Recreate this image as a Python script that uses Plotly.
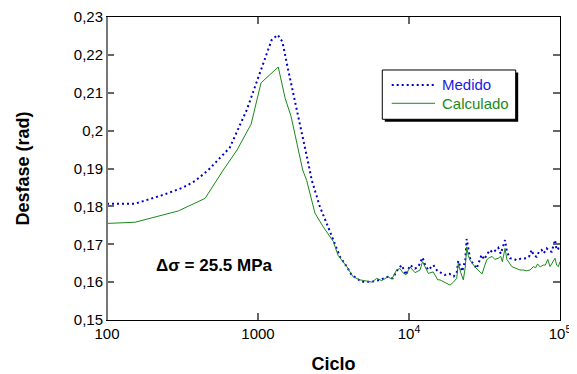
import plotly.graph_objects as go

# Medido (measured)
med_x = [100, 153, 188, 242, 320, 383, 469, 535, 650, 841, 1079, 1230, 1350, 1450, 1585, 1803,
         2177, 2270,
         2570, 2850, 3154, 3490, 3867, 4170, 4860, 5660, 6430, 7240, 7800, 8490, 8960, 9550,
         10160, 10960, 11500, 12300, 12800, 13420, 14490, 15500, 16200, 17300, 18500, 19800,
         20700, 21200, 22500, 23600, 24100, 24700, 25500, 26700, 28050, 30250, 31500, 32500,
         34350, 35800, 37000, 39000, 40500, 43250, 44500, 46660, 49000, 51600, 55000, 60200,
         62500, 64900, 67000, 70000, 72500, 75500, 78000, 81700, 84500, 88100, 90400, 92700,
         95000, 97500, 100000]
med_y = [0.1807, 0.1807, 0.1818, 0.1832, 0.1850, 0.1867, 0.1896, 0.1920, 0.1955, 0.2054, 0.2178,
         0.2239, 0.2253, 0.2235, 0.2160, 0.2060,
         0.1905, 0.1869,
         0.1799, 0.1755, 0.1711, 0.1667, 0.1641, 0.1619, 0.1601, 0.1601, 0.1606, 0.1614, 0.1610,
         0.1636, 0.1645, 0.1619,
         0.1645, 0.1636, 0.1640, 0.1665, 0.1645, 0.1632, 0.1645, 0.1628, 0.1625, 0.1619, 0.1622,
         0.1615, 0.1625, 0.1656, 0.1628, 0.1660, 0.1714, 0.1690, 0.1658, 0.1648, 0.1636, 0.1672,
         0.1660, 0.1670, 0.1685, 0.1678, 0.1682, 0.1691, 0.1675, 0.1711, 0.1680, 0.1663, 0.1662,
         0.1658, 0.1662, 0.1663, 0.1668, 0.1685, 0.1670, 0.1667, 0.1680, 0.1685, 0.1676, 0.1689,
         0.1682, 0.1680, 0.1695, 0.1711, 0.1685, 0.1689, 0.1689]

# Calculado (calculated)
cal_x = [100, 153, 297, 446, 589, 727, 900, 1047, 1362, 1514, 1655, 1977, 2099, 2384, 2704, 3154,
         3388, 3867, 4265, 4730, 5200, 5700, 6110, 6600, 7240, 7700, 8270, 8710, 9100, 9550,
         10160, 10960, 11830, 12300, 12800, 13420, 14460, 15500, 16030, 17300, 18700, 19700,
         20700, 21200, 22000, 22900, 23600, 24100, 24700, 25350, 26700, 27350, 29500, 30500,
         31500, 32700, 33500, 35500, 37000, 39000, 40500, 41500, 43250, 44500, 47900,
         51600, 54340, 57000, 60000, 63300, 66700, 69000, 71000, 74000, 77400, 80000,
         83000, 85900, 89000, 92700, 95000, 97500, 100000]
cal_y = [0.1755, 0.1758, 0.1788, 0.1821, 0.1896, 0.1949, 0.2017, 0.2126, 0.2168, 0.2085, 0.2038,
         0.1896, 0.1869, 0.1782, 0.1746, 0.1707,
         0.1671, 0.1641, 0.1614, 0.1606, 0.1603, 0.1600, 0.1610, 0.1604, 0.1614, 0.1608, 0.1632,
         0.1636, 0.1625, 0.1619,
         0.1640, 0.1625, 0.1632, 0.1654, 0.1640, 0.1623, 0.1627, 0.1606, 0.1606, 0.1600, 0.1592,
         0.1600, 0.1610, 0.1650, 0.1625, 0.1606, 0.1640, 0.1693, 0.1670, 0.1658, 0.1645, 0.1640,
         0.1627, 0.1622, 0.1640, 0.1658, 0.1663, 0.1668, 0.1660, 0.1663, 0.1668, 0.1654,
         0.1689, 0.1660, 0.1641, 0.1635, 0.1632, 0.1632, 0.1630, 0.1632, 0.1641, 0.1638,
         0.1648, 0.1640, 0.1645, 0.1645, 0.1660, 0.1641, 0.1650, 0.1663, 0.1645, 0.1641, 0.1654]

x_tickvals = [100, 1000, 10000, 100000]
x_ticktext = ["100", "1000", "10<sup>4</sup>", "10<sup>5</sup>"]
series_names = ["Medido", "Calculado"]

FONT = "Liberation Sans, Arial, Helvetica, sans-serif"
BLUE = "#0000cc"
BLUE_TXT = "#1a1ae6"
GREEN = "#1a8a1a"
DOT = "2px,3px"

fig = go.Figure()
fig.add_trace(go.Scatter(x=med_x, y=med_y, mode="lines", name=series_names[0],
                         line=dict(color=BLUE, width=2, dash=DOT)))
fig.add_trace(go.Scatter(x=cal_x, y=cal_y, mode="lines", name=series_names[1],
                         line=dict(color=GREEN, width=1)))

# legend box (paper coords)
bx0, bx1, by0, by1 = 0.6077, 0.9022, 0.6624, 0.8251
sx, sy = 2.5 / 453, 2.5 / 303
lx0, lx1, tx = 0.6285, 0.7241, 0.7351
ly = [0.7756, 0.7152]

shapes = [
    dict(type="rect", xref="paper", yref="paper", x0=bx0 + sx, x1=bx1 + sx, y0=by0 - sy, y1=by1 - sy,
         fillcolor="black", line=dict(width=0), layer="above"),
    dict(type="rect", xref="paper", yref="paper", x0=bx0, x1=bx1, y0=by0, y1=by1,
         fillcolor="white", line=dict(color="black", width=1), layer="above"),
    dict(type="line", xref="paper", yref="paper", x0=lx0, x1=lx1, y0=ly[0], y1=ly[0],
         line=dict(color=BLUE, width=2, dash=DOT), layer="above"),
    dict(type="line", xref="paper", yref="paper", x0=lx0, x1=lx1, y0=ly[1], y1=ly[1],
         line=dict(color=GREEN, width=1), layer="above"),
    dict(type="line", xref="paper", yref="paper", x0=0, x1=0, y0=0, y1=1,
         line=dict(color="#777", width=2)),
]

annotations = [
    dict(text="<b>Δσ = 25.5 MPa</b>", x=0.238, y=0.18, xref="paper", yref="paper",
         showarrow=False, font=dict(size=17, family=FONT), xanchor="center", yanchor="middle"),
    dict(text=series_names[0], x=tx, y=ly[0], xref="paper", yref="paper", showarrow=False,
         font=dict(size=15, family=FONT, color=BLUE_TXT), xanchor="left", yanchor="middle"),
    dict(text=series_names[1], x=tx, y=ly[1], xref="paper", yref="paper", showarrow=False,
         font=dict(size=15, family=FONT, color=GREEN), xanchor="left", yanchor="middle"),
]

fig.update_layout(
    width=569, height=366,
    margin=dict(l=99, r=17, t=9, b=54),
    paper_bgcolor="white", plot_bgcolor="white",
    separators=",.",
    font=dict(family=FONT, size=15, color="black"),
    showlegend=False,
    xaxis=dict(type="log", range=[2, 5], tickvals=x_tickvals, ticktext=x_ticktext,
               ticks="inside", ticklen=7, tickcolor="#666", tickwidth=1.5,
               showline=True, linecolor="black", linewidth=1, mirror="ticks",
               showgrid=False, zeroline=False, automargin=False,
               title=dict(text="<b>Ciclo</b>", font=dict(size=18), standoff=16),
               tickfont=dict(size=15)),
    yaxis=dict(range=[0.15, 0.23], dtick=0.01, tick0=0.15,
               ticks="inside", ticklen=7, tickcolor="#666", tickwidth=1.5,
               showline=True, linecolor="black", linewidth=1, mirror="ticks",
               showgrid=False, zeroline=False, automargin=False,
               title=dict(text="<b>Desfase (rad)</b>", font=dict(size=18), standoff=39),
               tickfont=dict(size=15)),
    annotations=annotations,
    shapes=shapes,
)

fig.write_html("out.html")
